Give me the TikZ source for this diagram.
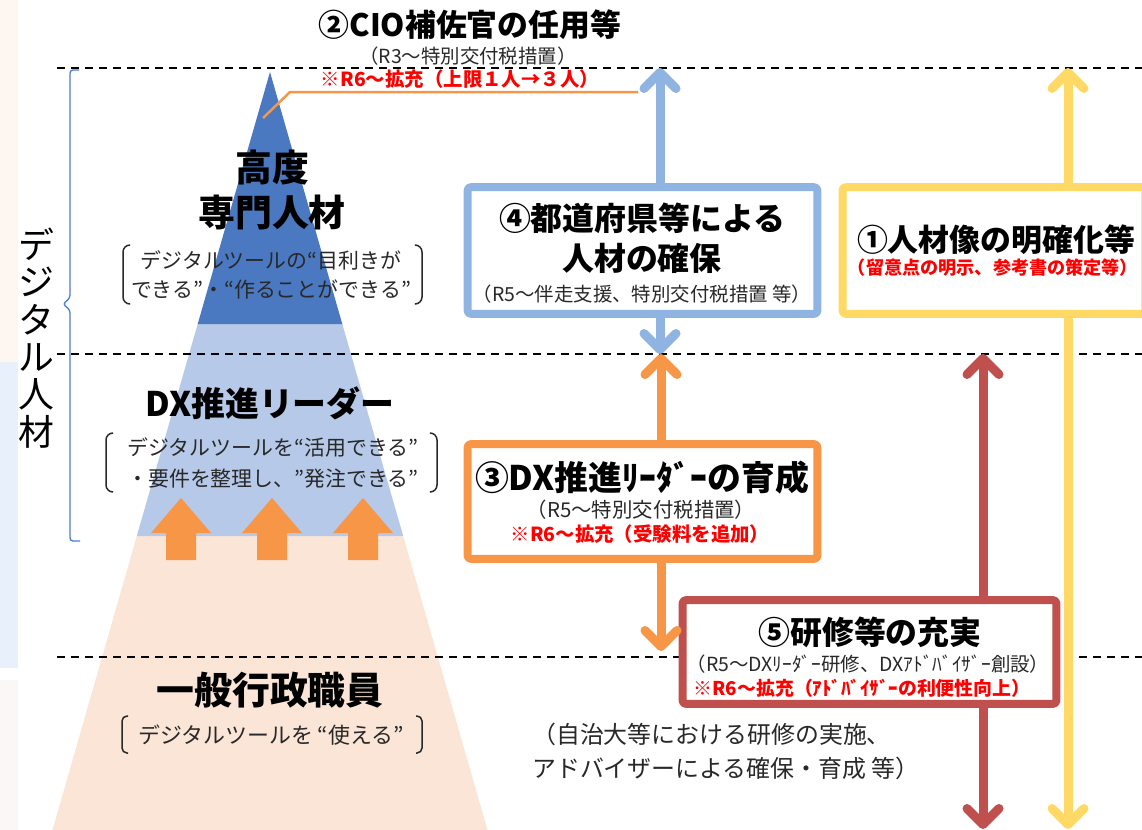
\documentclass[tikz,border=0pt]{standalone}
\usepackage{fontspec}
\setmainfont{Noto Sans CJK JP}
\usetikzlibrary{arrows.meta}
\definecolor{topblue}{RGB}{74,120,193}
\definecolor{midblue}{RGB}{182,201,232}
\definecolor{lowpink}{RGB}{251,229,214}
\definecolor{orng}{RGB}{247,150,70}
\definecolor{skyb}{RGB}{143,180,226}
\definecolor{ylw}{RGB}{255,217,102}
\definecolor{brick}{RGB}{192,80,77}
\definecolor{subgray}{RGB}{40,40,40}
\definecolor{bracecol}{RGB}{76,125,200}
\definecolor{stripa}{RGB}{253,246,241}
\definecolor{stripb}{RGB}{232,240,251}
\definecolor{stripc}{RGB}{250,247,246}
\newcommand{\fsz}[2]{\fontsize{#1}{#2}\selectfont}
\begin{document}
\begin{tikzpicture}[x=1bp,y=-1bp,>=latex,line join=bevel,
  sepline/.style={black,line width=2.2bp,dash pattern=on 8bp off 6bp},
  frame/.style={draw,line width=8bp,rounded corners=3bp,fill=white,inner sep=0pt},
  updown/.style={line width=9bp,-{Straight Barb[length=16bp,width=32bp,round]}},
  head/.style={font=\bfseries,inner sep=0pt},
  note/.style={text=subgray,inner sep=0pt},
  rednote/.style={text=red,font=\bfseries,inner sep=0pt},
  brk/.style={subgray,line width=1.5bp,rounded corners=7bp},
  ]
\useasboundingbox (0,0) rectangle (1142,830);
\clip (0,0) rectangle (1142,830);
%%
\fill[stripa] (0,0) rectangle (18,362);
\fill[stripb] (0,362) rectangle (18,668);
\fill[stripc] (0,680) rectangle (18,830);
%% pyramid
\fill[lowpink] (136.8,536) -- (403.2,536) -- (487.5,830) -- (52.5,830) -- cycle;
\fill[midblue] (197.7,324) -- (342.3,324) -- (403.2,536) -- (136.8,536) -- cycle;
\fill[topblue] (270,72) -- (342.3,324) -- (197.7,324) -- cycle;
\foreach \ax in {181,272,363}
  \fill[orng] (\ax-15,560) -- (\ax-15,533) -- (\ax-30,533) -- (\ax,498) -- (\ax+30,533) -- (\ax+15,533) -- (\ax+15,560) -- cycle;
%% levels
\draw[sepline] (57,68) -- (1142,68);
\draw[sepline] (57,354) -- (1142,354);
\draw[sepline] (57,657) -- (1142,657);
\draw[bracecol,line width=1.3bp,rounded corners=3bp] (79,70) -- (70,70) -- (70,298) -- (63,304) -- (70,310) -- (70,541) -- (80,541);
\node (node_vert) at (36,338) [align=center,inner sep=0pt,font=\fsz{36}{37.5}] {デ\\ジ\\タ\\ル\\人\\材};
%% title
\node (node_cio) at (470,25) [head,font=\bfseries\fsz{31}{31}] {②CIO補佐官の任用等};
\node (node_cio_r3) at (468,56) [note,font=\fsz{19.5}{19.5}] {（R3～特別交付税措置）};
\node (node_cio_r6) at (460,79) [rednote,font=\bfseries\fsz{19.5}{19.5}] {※R6～拡充（上限１人→３人）};
\coordinate (c_apex) at (263,118);
\coordinate (c_bend) at (290,92);
\coordinate (c_end) at (638,92);
\draw[orng,line width=2.5bp] (c_apex) -- (c_bend) -- (c_end);
%% pyramid texts
\node (node_koudo) at (272,190) [head,align=center,font=\bfseries\fsz{37}{45}] {高度\\専門人材};
\node (node_koudo_t) at (271,275) [note,align=center,font=\fsz{21}{29}] {デジタルツールの“目利きが\\できる”・“作ることができる”};
\draw[brk] (130,245) -- (123,245) -- (123,304) -- (130,304);
\draw[brk] (415,245) -- (422,245) -- (422,304) -- (415,304);
\node (node_dx) at (270,403) [head,font=\bfseries\fsz{34}{34}] {DX推進リーダー};
\node (node_dx_t) at (273,463) [note,align=center,font=\fsz{21}{32}] {デジタルツールを“活用できる”\\・要件を整理し、”発注できる”};
\draw[brk] (113,433) -- (106,433) -- (106,492) -- (113,492);
\draw[brk] (430,433) -- (437,433) -- (437,492) -- (430,492);
\node (node_ippan) at (270,690) [head,font=\bfseries\fsz{38}{38}] {一般行政職員};
\node (node_ippan_t) at (271,735) [note,font=\fsz{22}{22}] {デジタルツールを “使える”};
\draw[brk,rounded corners=5bp] (128,716) -- (122,716) -- (122,753) -- (128,753);
\draw[brk,rounded corners=5bp] (416,716) -- (422,716) -- (422,753) -- (416,753);
%% arrows
\coordinate (t_sky_up) at (660,68);
\coordinate (t_sky_dn) at (660,354);
\coordinate (t_ylw_up) at (1068,68);
\coordinate (t_ylw_dn) at (1068,829);
\coordinate (t_org_up) at (661,354);
\coordinate (t_org_dn) at (661,651);
\coordinate (t_brk_up) at (983,354);
\coordinate (t_brk_dn) at (983,829);
\node (box4) at (642.5,250.5) [frame,draw=skyb,minimum width=351,minimum height=127] {};
\node (box1) at (994,250.5) [frame,draw=ylw,minimum width=304,minimum height=127] {};
\node (box3) at (642.5,501.5) [frame,draw=orng,minimum width=351,minimum height=115] {};
\node (box5) at (869.5,652) [frame,draw=brick,minimum width=375,minimum height=104] {};
\draw[updown,skyb] (box4.north -| t_sky_up) -- (t_sky_up);
\draw[updown,skyb] (box4.south -| t_sky_dn) -- (t_sky_dn);
\draw[updown,ylw] (box1.north -| t_ylw_up) -- (t_ylw_up);
\draw[updown,ylw] (box1.south -| t_ylw_dn) -- (t_ylw_dn);
\draw[updown,orng] (box3.north -| t_org_up) -- (t_org_up);
\draw[updown,orng] (box3.south -| t_org_dn) -- (t_org_dn);
\draw[updown,brick] (box5.north -| t_brk_up) -- (t_brk_up);
\draw[updown,brick] (box5.south -| t_brk_dn) -- (t_brk_dn);
%% box texts
\node (node_box4_h) at (642,238) [head,align=center,font=\bfseries\fsz{32}{40}] {④都道府県等による\\人材の確保};
\node (node_box4_n) at (642,294) [note,font=\fsz{19.5}{19.5}] {（R5～伴走支援、特別交付税措置 等）};
\node (node_box1_h) at (996,240) [head,font=\bfseries\fsz{31}{31}] {①人材像の明確化等};
\node (node_box1_n) at (993,268) [rednote,font=\bfseries\fsz{18.2}{18.2}] {（留意点の明示、参考書の策定等）};
\node (node_box3_h) at (642,478) [head,font=\bfseries\fsz{34}{34}] {③DX推進ﾘｰﾀﾞｰの育成};
\node (node_box3_n) at (641,510) [note,font=\fsz{20.5}{20.5}] {（R5～特別交付税措置）};
\node (node_box3_r) at (640,534) [rednote,font=\bfseries\fsz{19.5}{19.5}] {※R6～拡充（受験料を追加）};
\node (node_box5_h) at (870,632) [head,font=\bfseries\fsz{32}{32}] {⑤研修等の充実};
\node (node_box5_n) at (868,664) [note,font=\fsz{19.5}{19.5}] {（R5～DXﾘｰﾀﾞｰ研修、DXｱﾄﾞﾊﾞｲｻﾞｰ創設）};
\node (node_box5_r) at (862,688) [rednote,font=\bfseries\fsz{19}{19}] {※R6～拡充（ｱﾄﾞﾊﾞｲｻﾞｰの利便性向上）};
%% training note
\node (node_train) at (532,751) [note,anchor=west,align=left,font=\fsz{24}{34}] {（自治大等における研修の実施、\\アドバイザーによる確保・育成 等）};
%
\end{tikzpicture}
\end{document}
